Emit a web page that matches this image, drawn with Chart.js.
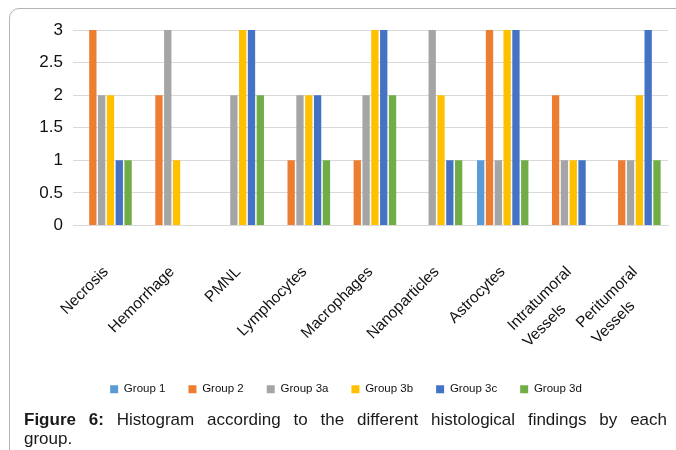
<!DOCTYPE html>
<html>
<head>
<meta charset="utf-8">
<script src="https://cdn.jsdelivr.net/npm/chart.js@4/dist/chart.umd.min.js"></script>
<style>
  html, body { margin: 0; padding: 0; background: #fff; }
  body { width: 676px; height: 450px; position: relative; overflow: hidden; font-family: "Liberation Sans", Arial, sans-serif; }
  #frame { position: absolute; left: 9px; top: 8px; width: 800px; height: 600px; border: 1.5px solid #b4b4b4; border-radius: 10px; box-sizing: border-box; }
  #wrap { position: absolute; left: 0; top: 0; width: 676px; height: 450px; }
  #caption { position: absolute; left: 24px; top: 410px; width: 643px; font-size: 17px; line-height: 19px; color: #1a1a1a; }
  #caption .l1 { text-align: justify; text-align-last: justify; white-space: nowrap; }
</style>
</head>
<body>
<div id="frame"></div>
<div id="wrap"><canvas id="c" width="676" height="450"></canvas></div>
<div id="caption">
  <div class="l1"><b>Figure 6:</b> Histogram according to the different histological findings by each</div>
  <div>group.</div>
</div>
<script>
const categories = ['Necrosis', 'Hemorrhage', 'PMNL', 'Lymphocytes', 'Macrophages', 'Nanoparticles', 'Astrocytes', ['Intratumoral', 'Vessels'], ['Peritumoral', 'Vessels']];
const seriesNames = ['Group 1', 'Group 2', 'Group 3a', 'Group 3b', 'Group 3c', 'Group 3d'];
const group1  = [0, 0, 0, 0, 0, 0, 1, 0, 0];
const group2  = [3, 2, 0, 1, 1, 0, 3, 2, 1];
const group3a = [2, 3, 2, 2, 2, 3, 1, 1, 1];
const group3b = [2, 1, 3, 2, 3, 2, 3, 1, 2];
const group3c = [1, 0, 3, 2, 3, 1, 3, 1, 3];
const group3d = [1, 0, 2, 1, 2, 1, 1, 0, 1];
const yTicks = [0, 0.5, 1, 1.5, 2, 2.5, 3];

const colors = ['#5B9BD5', '#ED7D31', '#A5A5A5', '#FFC000', '#4472C4', '#70AD47'];
const seriesValues = [group1, group2, group3a, group3b, group3c, group3d];
const FONT = '"Liberation Sans", Arial, sans-serif';
const xFontSize = 15.5;

// left-align the lines of multi-line rotated labels by padding shorter lines with trailing spaces
const mctx = document.createElement('canvas').getContext('2d');
mctx.font = xFontSize + 'px ' + FONT;
function alignLines(label) {
  if (!Array.isArray(label)) return label;
  const widths = label.map(t => mctx.measureText(t).width);
  const maxW = Math.max(...widths);
  const sp = mctx.measureText(' ').width;
  return label.map((t, i) => t + ' '.repeat(Math.round((maxW - widths[i]) / sp)));
}

new Chart(document.getElementById('c'), {
  type: 'bar',
  data: {
    labels: categories,
    datasets: seriesNames.map((n, i) => ({
      label: n,
      data: seriesValues[i],
      backgroundColor: colors[i],
      borderWidth: 0,
      categoryPercentage: 0.8,
      barPercentage: 0.83
    }))
  },
  options: {
    responsive: false,
    animation: false,
    layout: { padding: { top: 30, left: 24, right: 8, bottom: 45 } },
    plugins: {
      tooltip: { enabled: false },
      legend: {
        position: 'bottom',
        labels: {
          boxWidth: 8, boxHeight: 8, padding: 23, color: '#111',
          font: { family: FONT, size: 11.5 }
        }
      }
    },
    scales: {
      x: {
        grid: { display: false, drawTicks: false },
        border: { display: true, color: '#d9d9d9', width: 1 },
        ticks: {
          autoSkip: false, minRotation: 45, maxRotation: 45, padding: 36, color: '#111',
          font: { family: FONT, size: xFontSize, lineHeight: 1.45 },
          callback: function (value) { return alignLines(categories[value]); }
        },
        afterFit: s => { s.height = 135; s.paddingLeft = 0; s.paddingRight = 0; }
      },
      y: {
        min: 0, max: 3,
        afterBuildTicks: s => { s.ticks = yTicks.map(v => ({ value: v })); },
        grid: { color: '#d9d9d9', drawTicks: false },
        border: { display: false },
        ticks: {
          padding: 10, color: '#111',
          font: { family: FONT, size: 17 },
          callback: v => String(v)
        },
        afterFit: s => { s.width = 49; }
      }
    }
  }
});
</script>
</body>
</html>
